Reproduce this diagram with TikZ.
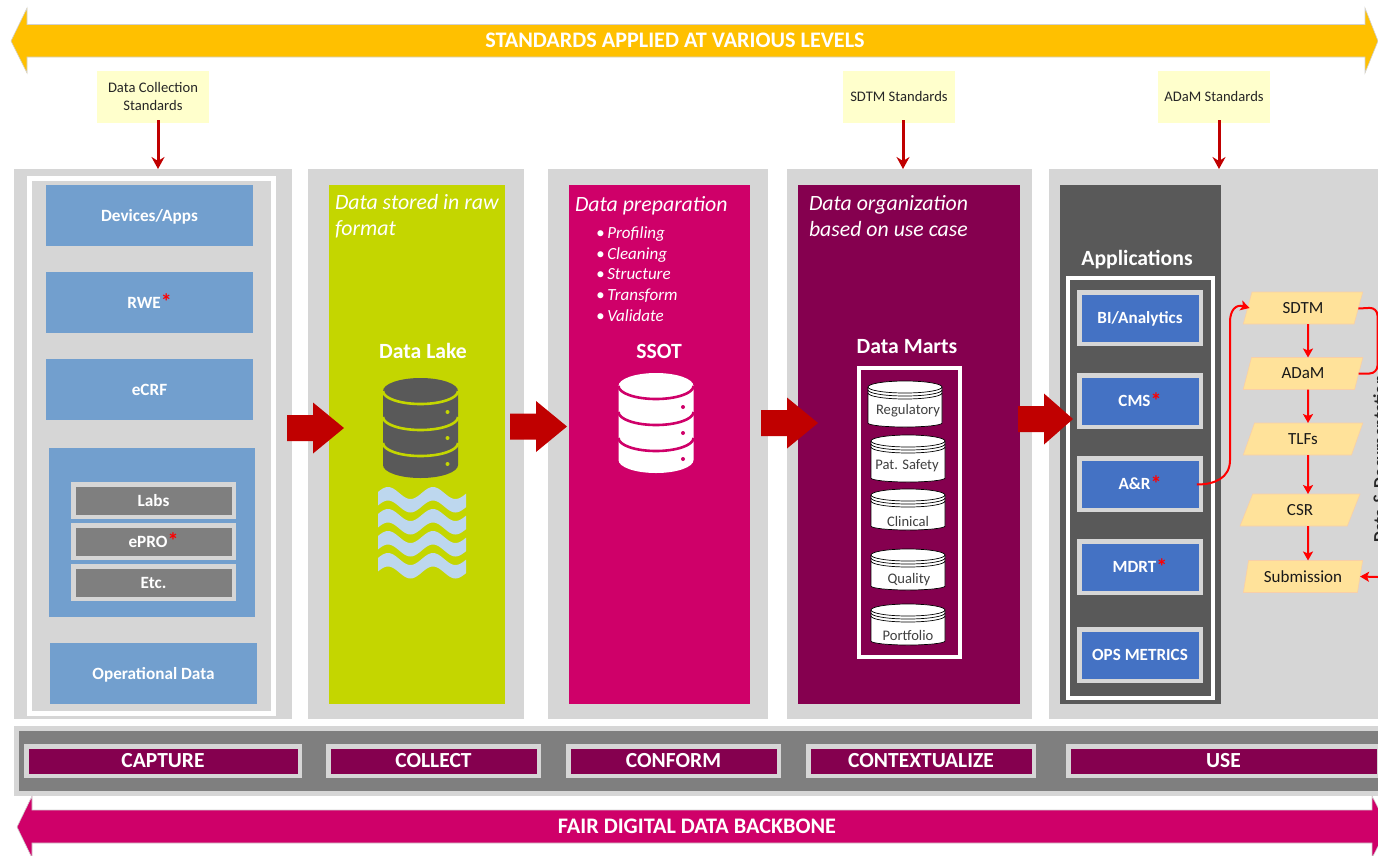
\documentclass[tikz,border=0pt]{standalone}
\usepackage{fontspec}
\setmainfont{Carlito}
\usetikzlibrary{arrows.meta,shapes.geometric}
\definecolor{panelgray}{HTML}{D6D6D6}
\definecolor{softblue}{HTML}{729FCE}
\definecolor{appblue}{HTML}{4472C4}
\definecolor{midgray}{HTML}{7F7F7F}
\definecolor{darkgray}{HTML}{595959}
\definecolor{lime}{HTML}{C4D600}
\definecolor{magent}{HTML}{CF0069}
\definecolor{plum}{HTML}{85004F}
\definecolor{gold}{HTML}{FFC000}
\definecolor{crimson}{HTML}{C00000}
\definecolor{paleyellow}{HTML}{FFFFCC}
\definecolor{sand}{HTML}{FFE29A}
\definecolor{sandedge}{HTML}{F8CFA8}
\definecolor{wave}{HTML}{BDD7EE}
\newcommand{\bx}[7]{\node[#2,minimum width={(#5-#3)*1pt},minimum height={(#6-#4)*1pt}] (#1) at ({(#3+#5)/2},{(#4+#6)/2}) {#7};}
\newcommand{\bbx}[7]{\node[#2,minimum width={(#5-#3-4.5)*1pt},minimum height={(#6-#4-4.5)*1pt}] (#1) at ({(#3+#5)/2},{(#4+#6)/2}) {#7};}
\newcommand{\rstar}{\textcolor{red}{\raisebox{-1.5pt}[0pt][0pt]{\fontsize{22}{18}\selectfont *}}}
\newcommand{\blockarrow}[3]{\fill[crimson] (#1,#2-13) -- (#1+26,#2-13) -- (#1+26,#2-25.5) -- (#3,#2) -- (#1+26,#2+25.5) -- (#1+26,#2+13) -- (#1,#2+13) -- cycle;}
\newcommand{\dbicon}[4]{%
  \fill[#3] (#1-37.5,#2+13) -- (#1-37.5,#2+87) arc[start angle=180,end angle=360,x radius=37.5pt,y radius=13pt] -- (#1+37.5,#2+13) arc[start angle=0,end angle=180,x radius=37.5pt,y radius=13pt] -- cycle;
  \foreach \o in {13,39,65}{
    \draw[#4,line width=2.6pt] (#1-37.5,#2+\o) arc[start angle=180,end angle=360,x radius=37.5pt,y radius=13pt];
    \fill[#4] (#1+27,#2+\o+21) circle[radius=2pt];
  }}
\newcommand{\mart}[7]{%
  \draw[black,fill=white,line width=.7pt] (#2,#4+6) -- (#2,#5-4) arc[start angle=180,end angle=360,x radius={(#3-#2)/2*1pt},y radius=4pt] -- (#3,#4+6) arc[start angle=0,end angle=180,x radius={(#3-#2)/2*1pt},y radius=6pt] -- cycle;
  \foreach \o in {6,9,12}{\draw[black,line width=.7pt] (#2,#4+\o) arc[start angle=180,end angle=360,x radius={(#3-#2)/2*1pt},y radius=6pt];}
  \node[marttext] (#1) at (#6,#7) {#1};}
\tikzset{
  panel/.style={fill=panelgray,inner sep=0pt,outer sep=0pt},
  flat/.style={inner sep=0pt,outer sep=0pt},
  softbox/.style={flat,fill=softblue,text=white,text height=11pt,text depth=0pt,font=\fontsize{17.2}{20}\selectfont\bfseries},
  graybox/.style={flat,fill=midgray,draw=panelgray,line width=4.5pt,text=white,text height=11pt,text depth=0pt,font=\fontsize{17.2}{20}\selectfont\bfseries},
  appbox/.style={flat,fill=appblue,draw=panelgray,line width=4.5pt,text=white,text height=11pt,text depth=0pt,font=\fontsize{17.1}{20}\selectfont\bfseries},
  stagebox/.style={flat,fill=plum,draw=panelgray,line width=4.5pt,text=white,text height=13.8pt,text depth=0pt,font=\fontsize{21.5}{26}\selectfont\bfseries},
  stdbox/.style={flat,fill=paleyellow,text=black!85,align=center,font=\fontsize{14.6}{18}\selectfont},
  stdarrow/.style={crimson,line width=3pt,-{Stealth[length=12pt,width=13pt,inset=4pt]}},
  flow/.style={red,line width=2pt,-{Stealth[length=9pt,width=10pt,inset=2pt]}},
  flowplain/.style={red,line width=2pt,rounded corners=8pt},
  doc/.style={trapezium,trapezium left angle=72.6,trapezium right angle=107.4,trapezium stretches=true,minimum width=120pt,minimum height=32pt,inner sep=0pt,outer sep=0pt,fill=sand,draw=sandedge,line width=.6pt,text=black!90,font=\fontsize{17}{20}\selectfont},
  paneltitle/.style={flat,text=white,font=\fontsize{21.7}{26}\selectfont\bfseries},
  panelnote/.style={flat,text=white,anchor=west,align=left,font=\fontsize{21.8}{26}\selectfont\itshape},
  marttext/.style={flat,text=black!75,font=\fontsize{14.6}{17}\selectfont},
  banner/.style={flat,text=white,font=\fontsize{22.2}{26}\selectfont\bfseries},
}
\begin{document}
\begin{tikzpicture}[x=1pt,y=-1pt]
\useasboundingbox (0,0) rectangle (1378,855);
\clip (0,0) rectangle (1378,855);
% top banner arrow
\path[fill=gold,draw=black!18,line width=.6pt] (11,41) -- (27,8) -- (27,24.5) -- (1365,24.5) -- (1365,8) -- (1378,41) -- (1365,73) -- (1365,57) -- (27,57) -- (27,73) -- cycle;
\node[banner] (topbanner) at (675,40) {STANDARDS APPLIED AT VARIOUS LEVELS};
% panels
\bx{p1}{panel}{14}{169}{292}{719}{}
\bx{p2}{panel}{308}{169}{524}{719}{}
\bx{p3}{panel}{548}{169}{768}{719}{}
\bx{p4}{panel}{787}{169}{1032}{719}{}
\bx{p5}{panel}{1049}{169}{1390}{719}{}
% standards
\bx{s1}{stdbox}{97}{70}{209}{122}{Data Collection\\Standards}
\fill[paleyellow] (97,120) rectangle (209,123);
\bx{s2}{stdbox}{843}{70}{955}{122}{SDTM Standards}
\fill[paleyellow] (843,120) rectangle (955,123);
\bx{s3}{stdbox}{1158}{70}{1270}{122}{ADaM Standards}
\fill[paleyellow] (1158,120) rectangle (1270,123);
\fill[white] (90,69) rectangle (1280,71);
\draw[stdarrow] ([xshift=5pt,yshift=2pt]s1.south) -- ([xshift=5pt]s1.south |- p1.north);
\draw[stdarrow] ([xshift=4pt,yshift=2pt]s2.south) -- ([xshift=4pt]s2.south |- p4.north);
\draw[stdarrow] ([xshift=5pt,yshift=2pt]s3.south) -- ([xshift=5pt]s3.south |- p5.north);
% capture panel
\draw[white,line width=5pt] (29.5,178.5) rectangle (273.5,713.5);
\bx{devices}{softbox}{46}{185}{253}{246}{Devices/Apps}
\bx{rwe}{softbox}{46}{272}{253}{333}{RWE\rstar}
\bx{ecrf}{softbox}{46}{359}{253}{420}{eCRF}
\bx{sources}{softbox}{49}{448}{255}{617}{}
\bx{opdata}{softbox}{50}{643}{257}{704}{Operational Data}
\bbx{labs}{graybox}{71}{482}{236}{519}{Labs}
\bbx{epro}{graybox}{71}{523}{236}{560}{ePRO\rstar}
\bbx{etc}{graybox}{71}{564}{236}{601}{Etc.}
% collect panel
\bx{lake}{flat,fill=lime}{329}{185}{505}{704}{}
\node[panelnote] (lakenote) at (335,216.5) {Data stored in raw\\format};
\node[paneltitle] (laketitle) at (423,351) {Data Lake};
\dbicon{420.5}{378}{darkgray}{lime}
\foreach \o in {0,22,44,66}{
  \fill[wave] plot[domain=378:466,samples=50] (\x,{493+\o-6*cos(8*(\x-388))}) -- plot[domain=466:378,samples=50] (\x,{506.5+\o-6*cos(8*(\x-388))}) -- cycle;
}
% conform panel
\bx{prep}{flat,fill=magent}{569}{185}{750}{704}{}
\node[panelnote] (prepnote) at (575,205.5) {Data preparation};
\node[flat,text=white,anchor=west,align=left,font=\fontsize{17}{20.6}\selectfont\itshape] (preplist) at (596,274) {•\,Profiling\\•\,Cleaning\\•\,Structure\\•\,Transform\\•\,Validate};
\node[paneltitle] (ssottitle) at (659,351) {SSOT};
\dbicon{656}{373}{white}{magent}
% contextualize panel
\bx{marts}{flat,fill=plum}{798}{185}{1020}{704}{}
\node[panelnote] (martnote) at (809,216.5) {Data organization\\based on use case};
\node[paneltitle] (marttitle) at (907,346.5) {Data Marts};
\draw[white,line width=4pt] (859,368) rectangle (960,657);
\mart{Regulatory}{868}{942}{381}{427}{908}{411}
\mart{Pat. Safety}{871}{945}{435}{482}{907}{466}
\mart{Clinical}{871}{945}{489}{530}{908}{521}
\mart{Quality}{871}{945}{549}{590}{909}{580}
\mart{Portfolio}{871}{945}{604}{645}{908}{635}
% use panel
\bx{apps}{flat,fill=darkgray}{1060}{185}{1221}{704}{}
\node[paneltitle] (appstitle) at (1137,259.5) {Applications};
\draw[white,line width=4pt] (1068,278) rectangle (1213,698);
\bbx{bi}{appbox}{1077}{290}{1203}{346}{BI/Analytics}
\bbx{cms}{appbox}{1077}{373}{1203}{429}{CMS\rstar}
\bbx{ar}{appbox}{1077}{456}{1203}{512}{A\&R\rstar}
\bbx{mdrt}{appbox}{1077}{539}{1203}{595}{MDRT\rstar}
\bbx{ops}{appbox}{1077}{627}{1203}{683}{OPS METRICS}
% document flow
\node[doc] (sdtm) at (1303,308) {SDTM};
\node[doc] (adam) at (1303,373.5) {ADaM};
\node[doc] (tlfs) at (1303,439) {TLFs};
\node[doc] (csr) at (1300,510) {CSR};
\node[doc] (submission) at (1303,576.5) {Submission};
\draw[flow] ([xshift=5pt]sdtm.south) -- ([xshift=5pt]adam.north);
\draw[flow] ([xshift=5pt]adam.south) -- ([xshift=5pt]tlfs.north);
\draw[flow] ([xshift=5pt]tlfs.south) -- ([xshift=8pt]csr.north);
\draw[flow] ([xshift=8pt]csr.south) -- ([xshift=5pt]submission.north);
\draw[flow] ([xshift=-4pt,yshift=-.5pt]ar.east) .. controls +(18,0) and (1230,478) .. (1230,460) -- (1230,322) .. controls (1230,310) and (1236,304) .. ([xshift=2pt]sdtm.west);
\draw[flowplain] ([yshift=-.5pt]sdtm.east) -- (1377.5,307.5) -- (1377.5,373.5) -- (adam.east);
\node[inner sep=0pt,outer sep=0pt,anchor=base,rotate=90,text=black!85,font=\fontsize{17.5}{20}\selectfont\bfseries] (docnote) at (1385.5,459) {Data \& Documentation};
\coordinate (docin) at (1378,577);
\draw[flow] (docin) -- (submission.east);
% block arrows
\blockarrow{287}{428}{344}
\blockarrow{510}{426.5}{567}
\blockarrow{761}{423}{818}
\blockarrow{1018}{419}{1073}
% stage band
\bx{band}{flat,fill=midgray,draw=panelgray,line width=5pt}{16.5}{728.5}{1395}{793.5}{}
\bbx{capture}{stagebox}{24}{744}{302}{778}{CAPTURE}
\bbx{collect}{stagebox}{326}{744}{541}{778}{COLLECT}
\bbx{conform}{stagebox}{566}{744}{781}{778}{CONFORM}
\bbx{context}{stagebox}{806}{744}{1036}{778}{CONTEXTUALIZE}
\bbx{use}{stagebox}{1066}{744}{1381}{778}{USE}
% bottom banner arrow
\path[fill=magent,draw=black!18,line width=.6pt] (17,827) -- (32,796) -- (32,810) -- (1372,810) -- (1372,796) -- (1388,827) -- (1372,858) -- (1372,843) -- (32,843) -- (32,858) -- cycle;
\node[banner] (bottombanner) at (697,826) {FAIR DIGITAL DATA BACKBONE};
\end{tikzpicture}
\end{document}
